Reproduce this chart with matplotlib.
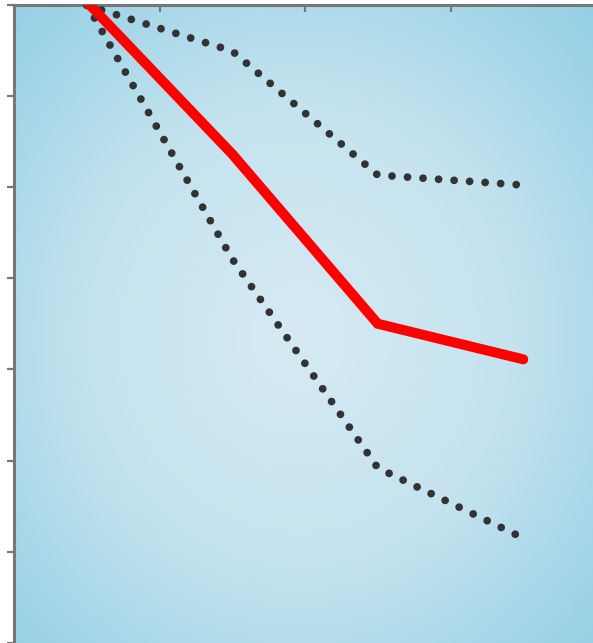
import numpy as np
import matplotlib
matplotlib.use("Agg")
import matplotlib.pyplot as plt
from matplotlib.colors import LinearSegmentedColormap

# data (4 categories)
categories = [0, 1, 2, 3]
mean_vals = [70.3, 53.6, 35.0, 31.1]
upper_vals = [69.9, 64.9, 51.3, 50.2]
lower_vals = [70.0, 42.1, 19.2, 11.5]

W, H = 593, 643
fig = plt.figure(figsize=(W / 100, H / 100), dpi=100)
fig.patch.set_facecolor("white")

ax = fig.add_axes([14 / W, 1 - 643 / H, (596 - 14) / W, (643 - 4.5) / H])

# radial background
ny, nx = 400, 400
yy, xx = np.mgrid[0:1:ny * 1j, 0:1:nx * 1j]
r = np.sqrt(((xx - 0.49) / 0.75) ** 2 + ((yy - 0.48) / 0.75) ** 2)
r = np.clip(r / r.max(), 0, 1)
cmap = LinearSegmentedColormap.from_list("bg", ["#d6eaf3", "#c4e3ef", "#93cfe5"])
ax.imshow(r, cmap=cmap, extent=(0, 1, 0, 1), transform=ax.transAxes,
          aspect="auto", origin="lower", zorder=0, interpolation="bilinear")

dots = dict(color="#333333", linewidth=5.6, linestyle=(0, (0.001, 2.0)),
            dash_capstyle="round", solid_capstyle="round", zorder=3)
ax.plot(categories, upper_vals, **dots)
ax.plot(categories, lower_vals, **dots)
ax.plot(categories, mean_vals, color="#ff0000", linewidth=7.2,
        solid_capstyle="round", solid_joinstyle="miter", zorder=4)

ax.set_xlim(-0.5, 3.5)
ax.set_ylim(0, 70)

ax.xaxis.tick_top()
ax.set_xticks([0.5, 1.5, 2.5])
ax.set_yticks(np.arange(0, 71, 10))
ax.tick_params(axis="x", direction="in", length=5, width=1.6, color="#777777",
               labeltop=False, labelbottom=False)
ax.tick_params(axis="y", direction="out", length=5, width=1.6, color="#777777",
               labelleft=False)

for side in ["top", "left"]:
    ax.spines[side].set_color("#777777")
    ax.spines[side].set_linewidth(2.2)
for side in ["right", "bottom"]:
    ax.spines[side].set_visible(False)

fig.savefig("out.png", dpi=100)
